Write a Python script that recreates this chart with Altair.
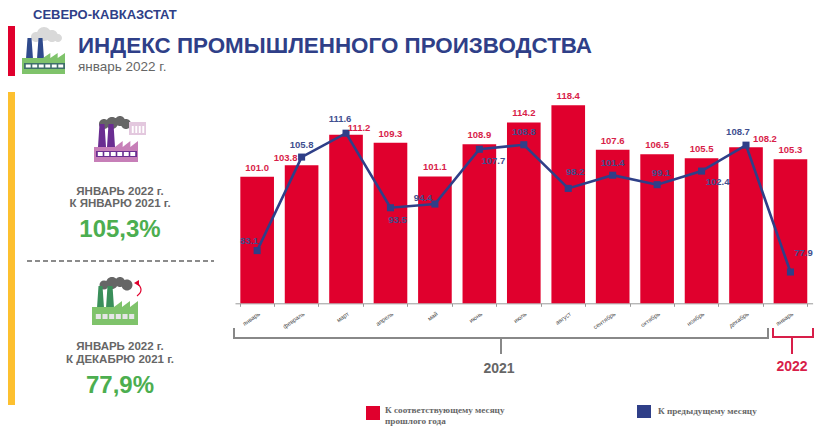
import altair as alt

months = ["январь 2021","февраль 2021","март 2021","апрель 2021","май 2021","июнь 2021","июль 2021","август 2021","сентябрь 2021","октябрь 2021","ноябрь 2021","декабрь 2021","январь 2022"]
yoy = [101.0,103.8,111.2,109.3,101.1,108.9,114.2,118.4,107.6,106.5,105.5,108.2,105.3]
mom = [83.1,105.8,111.6,93.5,94.4,107.7,108.8,98.2,101.4,99.1,102.4,108.7,77.9]
# label nudges (px)
yoy_off = [(0,-9),(-16,-7.5),(13,-7),(0,-9),(0,-9),(0,-9),(0,-9),(0,-9),(0,-9),(0,-9),(0,-9),(19,-8),(0,-9)]
mom_off = [(-8,-10),(0,-12),(-6,-14),(7,12),(-12,-6),(14,12),(0,-13),(7,-16),(0,-12),(4,-12),(16,11),(-8,-13),(13,-19)]

RED="#e0002d"; BLUE="#2f3f88"; LRED="#d81e49"; LBLUE="#3f4f8f"; GRAY="#666666"; GREEN="#4cae4f"; YEL="#fdc02f"
OX=8; OY=8
H=422

xs = alt.Scale(domain=months, range=[227,804.6], paddingInner=0.243, paddingOuter=0.12)
ys = alt.Scale(domain=[70.3,142], range=[295.3,0], nice=False, zero=False)
xaxis = alt.Axis(
        labelAngle=325, labelFontSize=6, labelColor="#444444", labelFont="Liberation Sans",
        labelPadding=4, labelExpr="split(datum.label,' ')[0]", offset=295.3-H, tickBand="extent",
        tickSize=3, domainColor="#999999", tickColor="#999999", labelOverlap=False, grid=False)
X = alt.X("m:N", scale=xs, sort=None, title=None, axis=xaxis)
Y = alt.Y("v:Q", scale=ys, axis=None, stack=None)
def rows(vals): return alt.Data(values=[{"m":m,"v":v} for m,v in zip(months,vals)])

bars = alt.Chart(rows(yoy)).mark_bar(color=RED).encode(x=X, y=Y, y2=alt.value(295.3))
line = alt.Chart(rows(mom)).mark_line(color=BLUE, strokeWidth=2.6).encode(x=X,y=Y)
pts = alt.Chart(rows(mom)).mark_point(shape="square", filled=True, color=BLUE, size=50, opacity=1).encode(x=X,y=Y)

layers=[]
def path(d, fill=None, stroke=None, sw=1):
    kw = dict(shape=d, size=4, opacity=1)
    if fill: kw.update(filled=True, fill=fill, strokeWidth=0)
    else: kw.update(filled=False, stroke=stroke, strokeWidth=sw, fill="transparent")
    layers.append(alt.Chart(alt.Data(values=[{}])).mark_point(**kw).encode(x=alt.value(-OX), y=alt.value(-OY)))
def rect(x0,y0,x1,y1): return f"M{x0} {y0}H{x1}V{y1}H{x0}Z "
def circ(c,y,r): return f"M{c-r} {y}a{r} {r} 0 1 0 {2*r} 0a{r} {r} 0 1 0 {-2*r} 0Z "
def text(s,x,y,size,color,bold=True,align="center",font="Liberation Sans"):
    layers.append(alt.Chart(alt.Data(values=[{}])).mark_text(text=s,fontSize=size,color=color,
        fontWeight="bold" if bold else "normal",align=align,baseline="alphabetic",font=font)
        .encode(x=alt.value(x-OX),y=alt.value(y-OY)))
def teeth(x0,x1,yb,n,h):
    w=(x1-x0)/n; d=""
    for i in range(n):
        d+=f"M{x0+i*w} {yb}L{x0+(i+1)*w} {yb-h}V{yb}Z "
    return d
def cells(x0,x1,y0,y1,n):
    w=(x1-x0)/n; return "".join(rect(x0+i*w+.8,y0,x0+(i+1)*w-.8,y1) for i in range(n))
def chimneys(a,b,c,d,top,bot):
    return f"M{a} {bot}L{a+1.5} {top}H{b-1.5}L{b} {bot}Z M{c} {bot}L{c+1.5} {top}H{d-1.5}L{d} {bot}Z "

# side bars
path(rect(0,26,15,76),fill=RED)
path(rect(0,92,15,405),fill=YEL)
# header icon
path(circ(36,37,5)+circ(44,34,7)+circ(52,36,6)+circ(58,38,4),fill="#d9d9d9")
path(chimneys(26,33,37,44,38,59),fill="#2f4a8c")
path(rect(22,58,65,74)+teeth(43,65,58,3,5),fill="#7fc36b")
path(rect(24,63,65,69),fill="#3f6f6a")
path(cells(25,64,64.5,67.5,6),fill="#ffffff")
# upper factory
path(circ(104,124,5)+circ(112,123,6)+circ(120,121,5)+circ(126,124,5),fill="#666666")
path(rect(129,122,146,135),fill="#e3c8de")
path(cells(131,145,126,133,4),fill="#ffffff")
path(chimneys(98,106,107,115,124,147),fill="#6a2d91")
path(rect(94,147,138,162)+teeth(115,138,147,3,6),fill="#c77fb8")
path(rect(96,151,137,157),fill="#6a2d91")
path(cells(97,136,152,156,6),fill="#ffffff")
# lower factory
path(circ(104,285,4.5)+circ(112,283,6)+circ(120,282,5)+circ(127,285,5.5),fill="#666666")
path(chimneys(97,104,106,114,286,308),fill="#3a8f5a")
path(rect(92,307,138,325)+teeth(114,138,307,3,6),fill="#7fc36b")
path(cells(95,135,314,319,6),fill="#e6e6e6")
path("M137 296Q145 290 137 283",stroke=RED,sw=1.2)
path("M134 283L139 280L139 286Z",fill=RED)
# dashed separator
layers.append(alt.Chart(alt.Data(values=[{}])).mark_rule(color=GRAY,strokeWidth=1.3,strokeDash=[5,3]).encode(
    x=alt.value(27-OX),x2=alt.value(214-OX),y=alt.value(261-OY)))
# brackets
path("M234 328V338H768V328M501 338V354",stroke="#888888",sw=2)
path("M773 328V337H813V328M792 337V354",stroke=LRED,sw=2)
# legend swatches
path(rect(366,406,380,420),fill=RED)
path(rect(637,405,651,418),fill=BLUE)

# texts
text("СЕВЕРО-КАВКАЗСТАТ",33,19,13,BLUE,align="left")
text("ИНДЕКС ПРОМЫШЛЕННОГО ПРОИЗВОДСТВА",78,53,22.4,BLUE,align="left")
text("январь 2022 г.",78,71,13.5,GRAY,bold=False,align="left")
text("ЯНВАРЬ 2022 г.",120,194.5,11.5,GRAY); text("К ЯНВАРЮ 2021 г.",120,206.5,11.5,GRAY)
text("105,3%",120,237,24,GREEN)
text("ЯНВАРЬ 2022 г.",120,350,11.5,GRAY); text("К ДЕКАБРЮ 2021 г.",120,363,11.5,GRAY)
text("77,9%",120,393,24,GREEN)
text("2021",499,373,14,GRAY); text("2022",792,371,14,LRED)
text("К соответствующему  месяцу",385,413,9.2,GRAY,align="left",font="Liberation Serif")
text("прошлого года",385,424,9.2,GRAY,align="left",font="Liberation Serif")
text("К предыдущему  месяцу",658,414,9.2,GRAY,align="left",font="Liberation Serif")

def labels(vals,offs,color):
    out=[]
    for m,v,(dx,dy) in zip(months,vals,offs):
        out.append(alt.Chart(alt.Data(values=[{"m":m,"v":v,"t":f"{v:.1f}"}])).mark_text(
            dx=dx,dy=dy,fontSize=9.5,color=color,fontWeight="bold",font="Liberation Sans",baseline="middle",align="center"
        ).encode(x=X,y=Y,text="t:N"))
    return out

chart = alt.layer(*layers[:2], bars, line, pts, *layers[2:], *labels(yoy,yoy_off,LRED), *labels(mom,mom_off,LBLUE)).properties(
    width=816,height=H,padding=0,autosize=alt.AutoSizeParams(type="none"),background="white"
).configure_view(stroke=None)
chart.save("out.html", embed_options={"renderer":"svg","actions":False})
